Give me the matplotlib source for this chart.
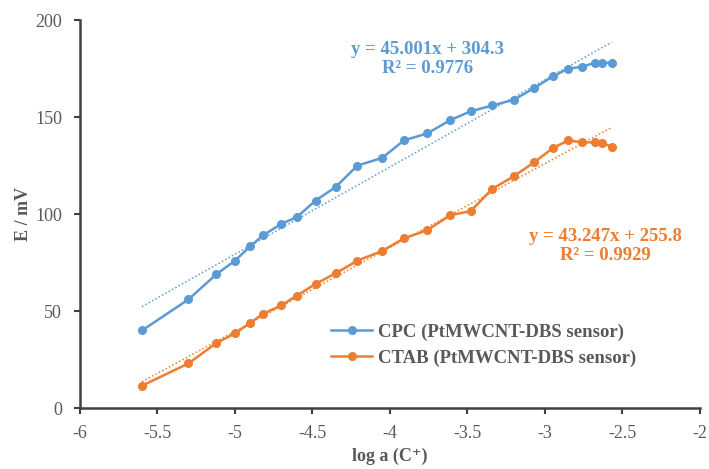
import matplotlib
matplotlib.use("Agg")
import matplotlib.pyplot as plt
import numpy as np

log_a = [-5.6, -5.3, -5.12, -5.0, -4.9, -4.82, -4.7, -4.6, -4.48, -4.35, -4.21,
         -4.05, -3.91, -3.76, -3.61, -3.48, -3.34, -3.2, -3.07, -2.95, -2.85,
         -2.76, -2.68, -2.63, -2.57]
cpc_E = [40, 56, 69, 76, 83.5, 89, 95, 98.5, 107, 114, 125,
         129, 138, 141.6, 148.5, 153, 156, 159, 165, 171, 175,
         176, 178, 178, 178]
ctab_E = [11.5, 23, 33.5, 38.5, 44, 48.5, 53, 58, 64, 69.5, 76,
          81, 87.5, 91.7, 99.5, 101.5, 113, 119.6, 126.7, 134, 138,
          137, 137, 136.5, 134.8]

series_names = ["CPC (PtMWCNT-DBS sensor)", "CTAB (PtMWCNT-DBS sensor)"]
fit_slopes = [45.001, 43.247]
fit_intercepts = [304.3, 255.8]
fit_r2 = ["0.9776", "0.9929"]
x_ticks = [-6, -5.5, -5, -4.5, -4, -3.5, -3, -2.5, -2]
y_ticks = [0, 50, 100, 150, 200]

blue = "#5B9BD5"
orange = "#ED7D31"
gray = "#595959"
serif = ["Liberation Serif", "DejaVu Serif"]

fig = plt.figure(figsize=(7.09, 4.69), dpi=100)
ax = fig.add_axes([0.1128, 0.130, 0.8745, 0.827])

for ys, col, name, m, b in zip([cpc_E, ctab_E], [blue, orange], series_names,
                               fit_slopes, fit_intercepts):
    ax.plot(log_a, ys, color=col, lw=1.8, marker="o", ms=5.5, label=name)
    xs = np.array([min(log_a), max(log_a)])
    ax.plot(xs, m * xs + b, color=col, lw=1.1, ls=(0, (1, 1.5)))

ax.set_xlim(-6, -2)
ax.set_ylim(0, 200)
ax.set_xticks(x_ticks)
ax.set_xticklabels([f"{t:g}" for t in x_ticks])
ax.set_yticks(y_ticks)
for s in ["top", "right"]:
    ax.spines[s].set_visible(False)
for s in ["left", "bottom"]:
    ax.spines[s].set_color("#404040")
    ax.spines[s].set_linewidth(1.8)
ax.tick_params(axis="both", direction="out", length=4, width=1.5, color="#404040",
               labelcolor=gray, labelsize=13)
for lab in ax.get_xticklabels() + ax.get_yticklabels():
    lab.set_family(serif)
ax.xaxis.set_tick_params(pad=8)
ax.yaxis.set_tick_params(pad=9)

ax.set_xlabel("log a (C\u207a)", fontsize=13, fontweight="bold", color=gray,
              family=serif, labelpad=4)
ax.set_ylabel("E / mV", fontsize=13, fontweight="bold", color=gray,
              family=serif, labelpad=2)

ax.text(-3.76, 180, f"y = {fit_slopes[0]}x + {fit_intercepts[0]}\nR\u00b2 = {fit_r2[0]}",
        color=blue, fontsize=13.5, fontweight="bold", family=serif,
        ha="center", va="center", linespacing=1.1)
ax.text(-2.61, 83.5, f"y = {fit_slopes[1]}x + {fit_intercepts[1]}\nR\u00b2 = {fit_r2[1]}",
        color=orange, fontsize=13.5, fontweight="bold", family=serif,
        ha="center", va="center", linespacing=1.1)

leg = ax.legend(loc="center left", bbox_to_anchor=(0.405, 0.162), frameon=False,
                borderpad=0, borderaxespad=0,
                prop={"family": serif, "size": 13.5, "weight": "bold"},
                handlelength=2.2, handletextpad=0.3, labelspacing=0.45)
for t in leg.get_texts():
    t.set_color(gray)

fig.savefig("out.png", dpi=100)
